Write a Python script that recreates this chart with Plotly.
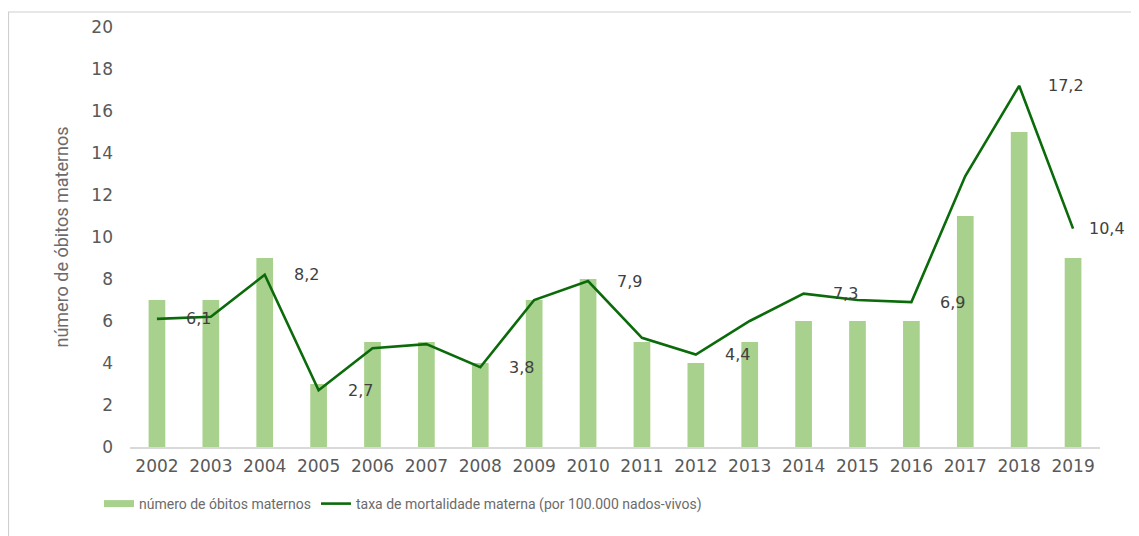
import plotly.graph_objects as go

anos = ["2002","2003","2004","2005","2006","2007","2008","2009","2010",
        "2011","2012","2013","2014","2015","2016","2017","2018","2019"]
obitos = [7, 7, 9, 3, 5, 5, 4, 7, 8, 5, 4, 5, 6, 6, 6, 11, 15, 9]
taxa = [6.1, 6.2, 8.2, 2.7, 4.7, 4.9, 3.8, 7.0, 7.9, 5.2, 4.4, 6.0, 7.3, 7.0, 6.9, 12.9, 17.2, 10.4]
rotulos = ["6,1", "", "8,2", "2,7", "", "", "3,8", "", "7,9", "", "4,4", "", "7,3", "", "6,9", "", "17,2", "10,4"]

BAR_COLOR = "#A9D18E"
LINE_COLOR = "#0B6B0B"

fig = go.Figure()
fig.add_trace(go.Bar(
    x=anos, y=obitos, name="número de óbitos maternos", showlegend=False,
    marker=dict(color=BAR_COLOR, line=dict(width=0)), width=0.31,
))
# legend proxy with a wide rectangular swatch
fig.add_trace(go.Scatter(
    x=[None], y=[None], mode="lines", name="número de óbitos maternos",
    line=dict(color=BAR_COLOR, width=7),
))
fig.add_trace(go.Scatter(
    x=anos, y=taxa, mode="lines",
    name="taxa de mortalidade materna (por 100.000 nados-vivos)",
    line=dict(color=LINE_COLOR, width=2.6),
))

n = len(rotulos)
for i, (v, t) in enumerate(zip(taxa, rotulos)):
    if t:
        fig.add_annotation(x=i, y=v, text=t, showarrow=False, xanchor="left",
                           yanchor="middle", xshift=14 if i == n - 1 else 27,
                           font=dict(family="DejaVu Sans", size=16, color="#404040"))

W, H = 1139, 536
ML, MR, MT, MB = 122, 47, 19, 97
pw, ph = W - ML - MR, H - MT - MB

fig.update_layout(
    width=W, height=H,
    margin=dict(l=ML, r=MR, t=MT, b=MB, autoexpand=False),
    paper_bgcolor="white", plot_bgcolor="white",
    showlegend=True,
    legend=dict(orientation="h", xref="container", yref="container",
                x=91 / W, y=1 - 496 / H, xanchor="left", yanchor="middle",
                font=dict(family="Roboto", size=14, color="#6b6b6b"),
                itemwidth=30, tracegroupgap=0, traceorder="normal"),
    bargap=0.69,
    shapes=[dict(type="rect", xref="paper", yref="paper",
                 x0=-(ML - 0.5) / pw, x1=1.2, y0=-0.5, y1=1 + (MT - 4) / ph,
                 line=dict(color="#CFCFCF", width=1.2), layer="below")],
)
fig.update_xaxes(
    type="category", range=[-0.5, 17.5], showgrid=False,
    showline=True, linecolor="#D9D9D9", linewidth=1.5,
    ticks="", automargin=False, ticklabelstandoff=3,
    tickfont=dict(family="DejaVu Sans", size=17, color="#595959"),
)
fig.update_yaxes(
    range=[0, 20], dtick=2, showgrid=False, zeroline=False, showline=False,
    ticks="", ticklabelstandoff=16, automargin=False,
    tickfont=dict(family="DejaVu Sans", size=17, color="#595959"),
    title=dict(text="número de óbitos maternos", standoff=18,
               font=dict(family="Roboto", size=18, color="#6b6b6b")),
)

fig.write_html("out.html")
